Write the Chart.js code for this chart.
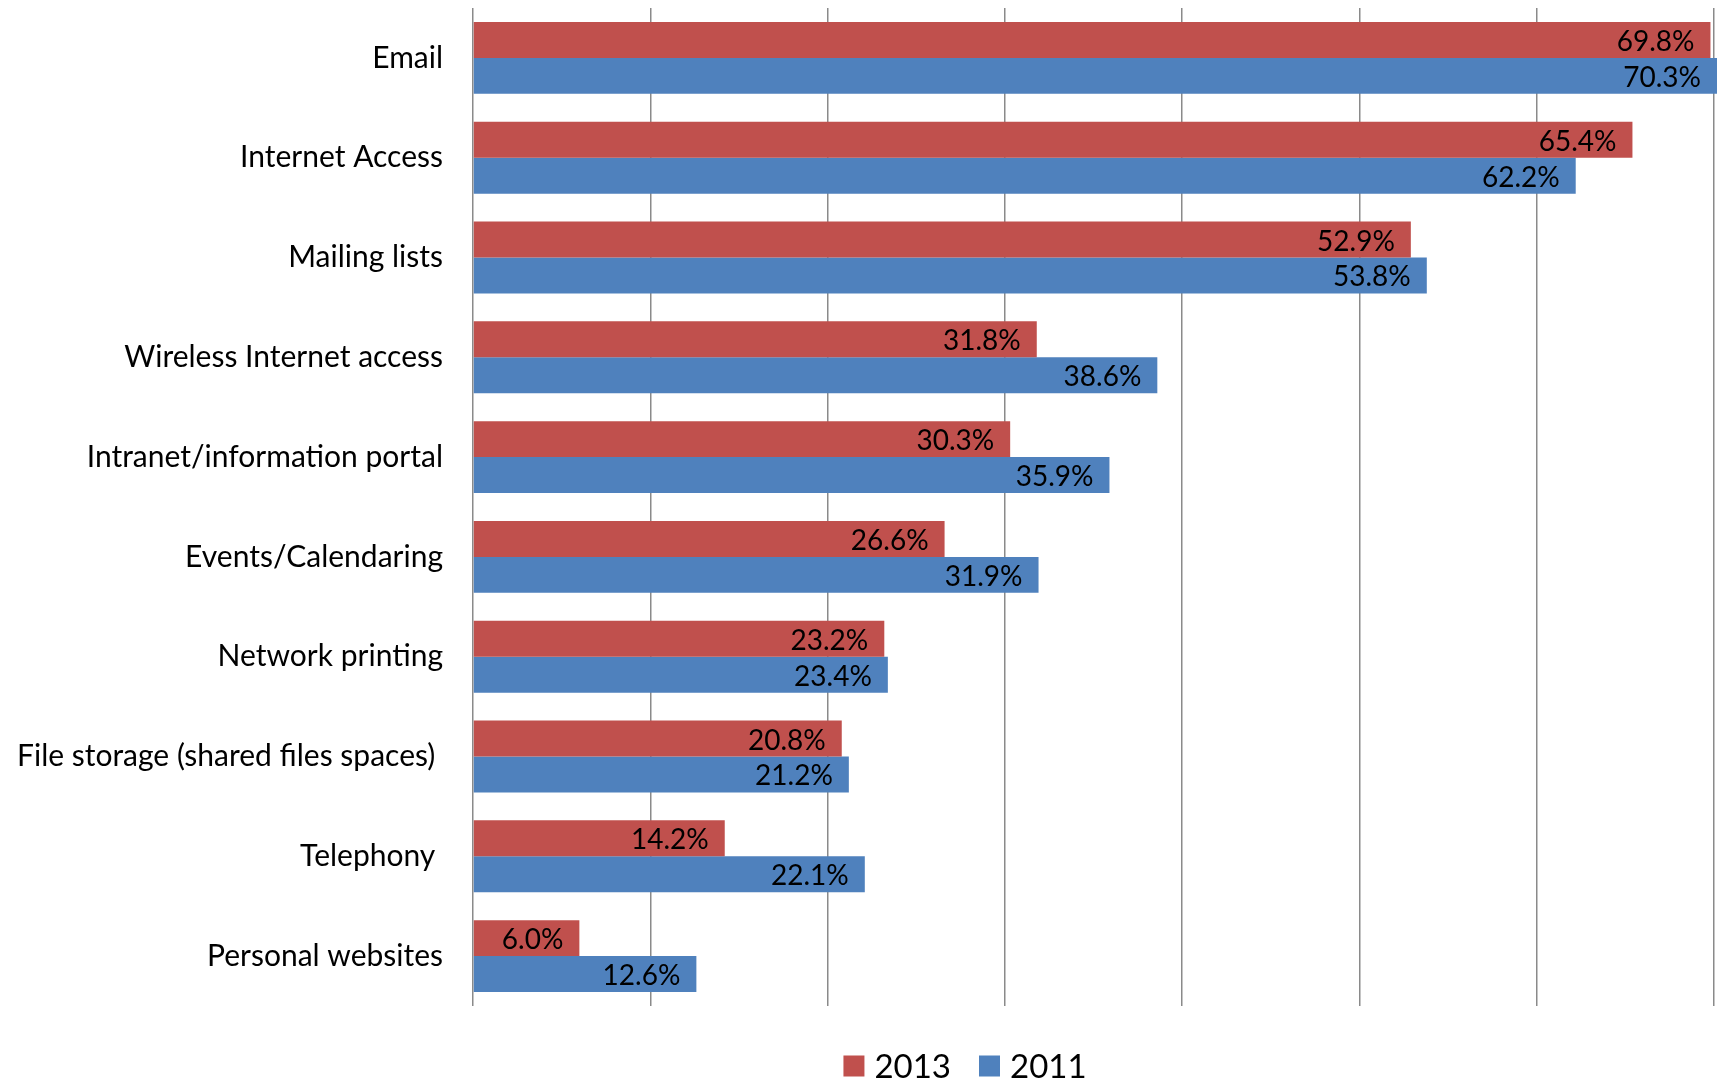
<!DOCTYPE html>
<html>
<head>
<meta charset="utf-8">
<script src="https://cdn.jsdelivr.net/npm/chart.js@4/dist/chart.umd.min.js"></script>
<style>
  html, body { margin: 0; padding: 0; background: #fff; }
  #wrap { width: 1717px; height: 1080px; }
</style>
</head>
<body>
<div id="wrap"><canvas id="chart" width="1717" height="1080"></canvas></div>
<script>
// categories, top to bottom
const categories = [
  'Email',
  'Internet Access',
  'Mailing lists',
  'Wireless Internet access',
  'Intranet/information portal',
  'Events/Calendaring',
  'Network printing',
  'File storage (shared files spaces) ',
  'Telephony ',
  'Personal websites'
];
const seriesNames = ['2013', '2011'];
const values2013 = [69.8, 65.4, 52.9, 31.8, 30.3, 26.6, 23.2, 20.8, 14.2, 6.0];
const values2011 = [70.3, 62.2, 53.8, 38.6, 35.9, 31.9, 23.4, 21.2, 22.1, 12.6];

const RED = '#C0504D';
const BLUE = '#4F81BD';
const FONT = 'Lato, "Open Sans", sans-serif';

// draws "xx.x%" inside the end of every bar
const valueLabels = {
  id: 'valueLabels',
  afterDatasetsDraw(chart) {
    const ctx = chart.ctx;
    ctx.save();
    ctx.font = '28px ' + FONT;
    ctx.fillStyle = '#000';
    ctx.textAlign = 'right';
    ctx.textBaseline = 'middle';
    chart.data.datasets.forEach((ds, i) => {
      chart.getDatasetMeta(i).data.forEach((bar, j) => {
        const x = Math.min(bar.x, chart.width) - 16;
        ctx.fillText(ds.data[j].toFixed(1) + '%', x, bar.y + 2);
      });
    });
    ctx.restore();
  }
};

// legend under the plot, like the original one
const bottomLegend = {
  id: 'bottomLegend',
  afterDraw(chart) {
    const ctx = chart.ctx;
    const box = 21, gapText = 10, gapItem = 28;
    const centerX = 965, centerY = 1066;
    ctx.save();
    ctx.font = '33px ' + FONT;
    ctx.textBaseline = 'middle';
    const items = chart.data.datasets.map(ds => ({
      label: ds.label, color: ds.backgroundColor,
      w: box + gapText + ctx.measureText(ds.label).width
    }));
    const total = items.reduce((s, it) => s + it.w, 0) + gapItem * (items.length - 1);
    let x = centerX - total / 2;
    items.forEach(it => {
      ctx.fillStyle = it.color;
      ctx.fillRect(x, centerY - box / 2, box, box);
      ctx.fillStyle = '#000';
      ctx.fillText(it.label, x + box + gapText, centerY + 1);
      x += it.w + gapItem;
    });
    ctx.restore();
  }
};

new Chart(document.getElementById('chart'), {
  type: 'bar',
  data: {
    labels: categories,
    datasets: [
      { label: seriesNames[0], data: values2013, backgroundColor: RED, clip: false },
      { label: seriesNames[1], data: values2011, backgroundColor: BLUE, clip: false }
    ]
  },
  options: {
    indexAxis: 'y',
    responsive: false,
    animation: false,
    devicePixelRatio: 1,
    datasets: { bar: { categoryPercentage: 0.72, barPercentage: 1.0 } },
    layout: { padding: { top: 8, right: 3, bottom: 74, left: 0 } },
    plugins: {
      legend: { display: false },
      tooltip: { enabled: false }
    },
    scales: {
      x: {
        min: 0, max: 70,
        ticks: { stepSize: 10, display: false },
        grid: { color: '#8a8a8a', lineWidth: 1.5, drawTicks: false },
        border: { display: false },
        afterFit(scale) {
          scale.height = 0;
          scale.paddingLeft = 0;
          scale.paddingRight = 0;
        }
      },
      y: {
        ticks: { color: '#000', font: { family: FONT, size: 30 }, padding: 30 },
        grid: { display: false, drawTicks: false },
        border: { display: false },
        afterFit(scale) {
          scale.width = 473;
          scale.paddingTop = 0;
          scale.paddingBottom = 0;
        }
      }
    }
  },
  plugins: [valueLabels, bottomLegend]
});
</script>
</body>
</html>
